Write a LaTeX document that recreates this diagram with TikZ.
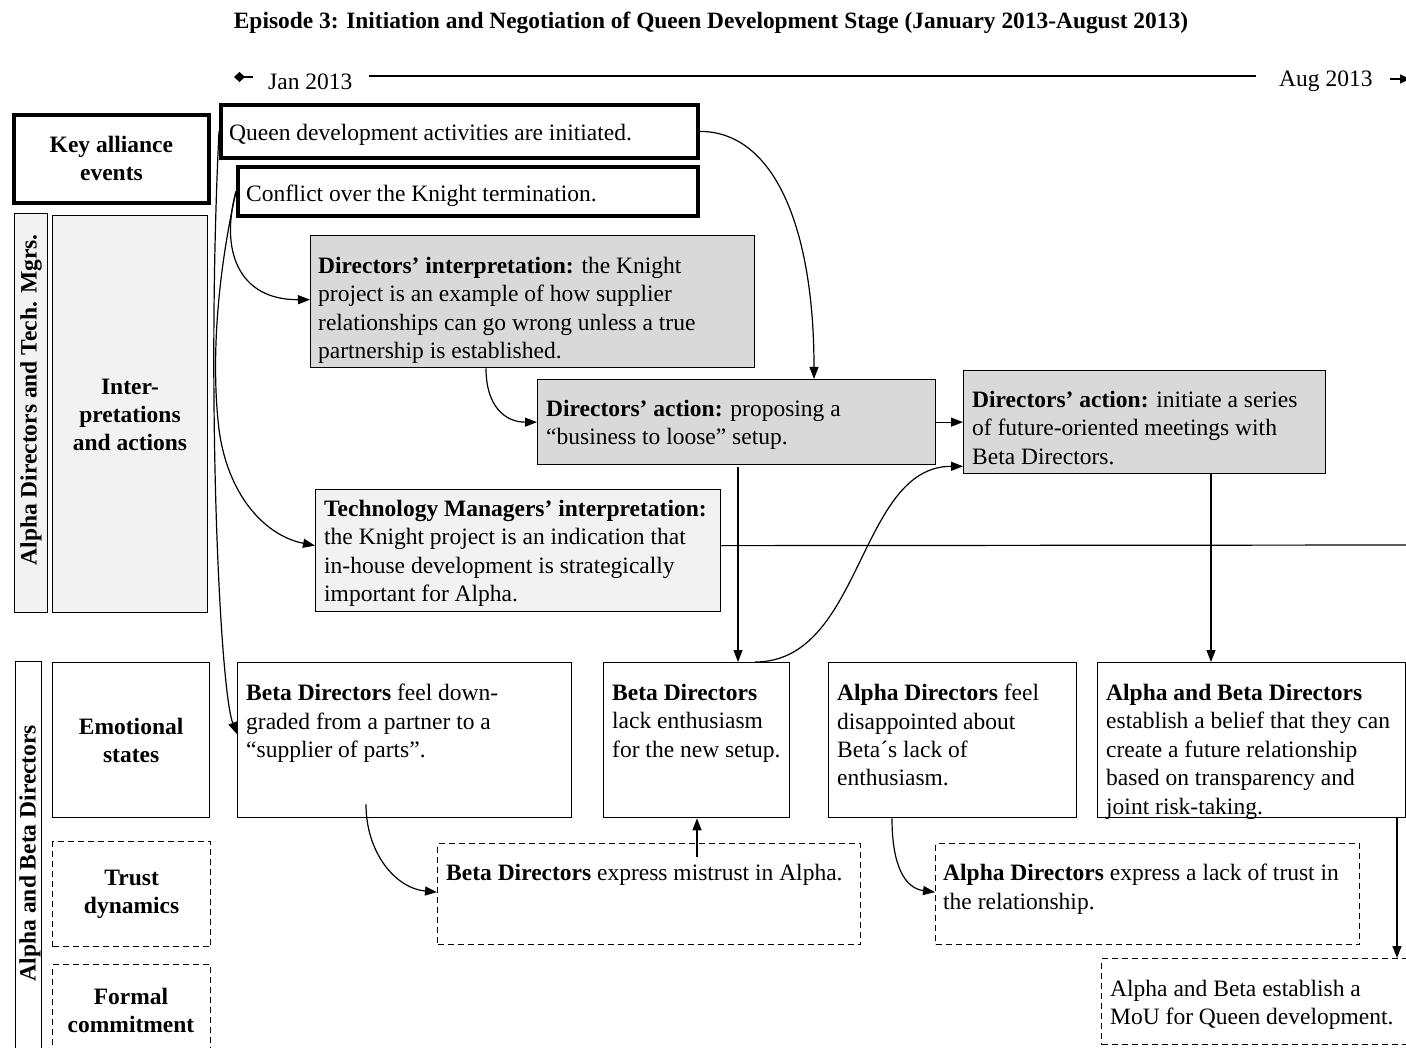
\documentclass[tikz,border=0pt]{standalone}
\usepackage{fontspec}
\setmainfont{Liberation Serif}
\usetikzlibrary{arrows.meta,calc}
\definecolor{gdark}{HTML}{D9D9D9}
\definecolor{glight}{HTML}{F2F2F2}
\begin{document}
\begin{tikzpicture}[x=1pt,y=-1pt,
  rect/.style={draw, line width=1.3pt, inner sep=0pt, anchor=north west},
  thickrect/.style={rect, line width=3.8pt},
  dashrect/.style={rect, dash pattern=on 6pt off 4pt},
  txt/.style={font=\fontsize{23.5}{28.4}\selectfont, align=left, inner sep=0pt, anchor=north west},
  lab/.style={font=\bfseries\fontsize{23.5}{28}\selectfont, align=center, inner sep=0pt},
  arr/.style={line width=1.2pt, -{Triangle[length=12pt,width=9pt]}},
  plain/.style={line width=1.2pt}
]
\useasboundingbox[fill=white] (0,0) rectangle (1406,1048);

% title
\node[font=\bfseries\fontsize{23.4}{26}\selectfont, inner sep=0pt] (title) at (711,23) {Episode 3: Initiation and Negotiation of Queen Development Stage (January 2013-August 2013)};

% timeline
\node[font=\fontsize{23.5}{26}\selectfont, anchor=west, inner sep=0pt] (jan) at (268,82) {Jan 2013};
\node[font=\fontsize{23.5}{26}\selectfont, anchor=west, inner sep=0pt] (aug) at (1279,81) {Aug 2013};
\coordinate (tlA) at (234,77);
\coordinate (tlB) at (253,77);
\coordinate (tlC) at (1390,79);
\coordinate (tlD) at (1410,79);
\draw[line width=1.2pt, {Diamond[length=11pt,width=10pt]}-] (tlA) -- (tlB);
\draw[line width=1.2pt] ($(jan.east)+(16,-6)$) -- ($(aug.west)+(-23,-5)$);
\draw[line width=1.2pt, -{Triangle[length=10pt,width=9pt]}] (tlC) -- (tlD);

% left labels
\node[thickrect, minimum width=195pt, minimum height=88pt] (kae) at (12,113) {};
\node[lab] (kaet) at (kae.center) {Key alliance\\events};
\node[rect, fill=glight, minimum width=33pt, minimum height=399pt] (colA) at (14,213) {};
\node[lab, rotate=90] (colAt) at (31,400) {Alpha Directors and Tech. Mgrs.};
\node[rect, fill=glight, minimum width=155pt, minimum height=397pt] (interp) at (52,215) {};
\node[lab] (interpt) at (130,415) {Inter-\\pretations\\and actions};
\node[rect, minimum width=26pt, minimum height=420pt] (colB) at (15,661) {};
\node[lab, rotate=90] (colBt) at (30,853) {Alpha and Beta Directors};
\node[rect, minimum width=157pt, minimum height=155pt] (emo) at (52,662) {};
\node[lab] (emot) at (emo.center) {Emotional\\states};
\node[dashrect, minimum width=158pt, minimum height=105pt] (trust) at (52,841) {};
\node[lab] (trustt) at (trust.center) {Trust\\dynamics};
\node[dashrect, minimum width=158pt, minimum height=110pt] (formal) at (52,964) {};
\node[lab] (formalt) at (131,1010) {Formal\\commitment};

% key events
\node[thickrect, minimum width=477pt, minimum height=53pt] (queen) at (219,103) {};
\node[txt, anchor=west] (queent) at (229,135) {Queen development activities are initiated.};
\node[thickrect, minimum width=460pt, minimum height=49pt] (conflict) at (236,165) {};
\node[txt, anchor=west] (conflictt) at (246,196) {Conflict over the Knight termination.};

% interpretations and actions
\node[rect, fill=gdark, minimum width=444pt, minimum height=132pt] (dint) at (310,235) {};
\node[txt] (dintt) at (318,257) {\textbf{Directors’ interpretation:} the Knight\\project is an example of how supplier\\relationships can go wrong unless a true\\partnership is established.};
\node[rect, fill=gdark, minimum width=398pt, minimum height=85pt] (dact) at (537,379) {};
\node[txt] (dactt) at (546,400) {\textbf{Directors’ action:} proposing a\\“business to loose” setup.};
\node[rect, fill=gdark, minimum width=362pt, minimum height=103pt] (dini) at (963,370) {};
\node[txt] (dinit) at (972,391) {\textbf{Directors’ action:} initiate a series\\of future-oriented meetings with\\Beta Directors.};
\node[rect, fill=glight, minimum width=405pt, minimum height=122pt] (tech) at (315,489) {};
\node[txt] (techt) at (324,500) {\textbf{Technology Managers’ interpretation:}\\the Knight project is an indication that\\in-house development is strategically\\important for Alpha.};

% emotional states
\node[rect, minimum width=334pt, minimum height=155pt] (bdown) at (237,662) {};
\node[txt] (bdownt) at (246,684) {\textbf{Beta Directors} feel down-\\graded from a partner to a\\“supplier of parts”.};
\node[rect, minimum width=186pt, minimum height=155pt] (black) at (603,662) {};
\node[txt] (blackt) at (612,684) {\textbf{Beta Directors}\\lack enthusiasm\\for the new setup.};
\node[rect, minimum width=248pt, minimum height=155pt] (adis) at (828,662) {};
\node[txt] (adist) at (837,684) {\textbf{Alpha Directors} feel\\disappointed about\\Beta´s lack of\\enthusiasm.};
\node[rect, minimum width=308pt, minimum height=155pt] (belief) at (1097,662) {};
\node[txt] (belieft) at (1106,684) {\textbf{Alpha and Beta Directors}\\establish a belief that they can\\create a future relationship\\based on transparency and\\joint risk-taking.};

% trust dynamics
\node[dashrect, minimum width=423pt, minimum height=101pt] (mist) at (437,843) {};
\node[txt] (mistt) at (446,864) {\textbf{Beta Directors} express mistrust in Alpha.};
\node[dashrect, minimum width=424pt, minimum height=101pt] (alack) at (935,843) {};
\node[txt] (alackt) at (943,864) {\textbf{Alpha Directors} express a lack of trust in\\the relationship.};

% formal commitment
\node[dashrect, minimum width=320pt, minimum height=86pt] (mou) at (1101,958) {};
\node[txt] (mout) at (1110,980) {Alpha and Beta establish a\\MoU for Queen development.};

% connectors
\coordinate (offR) at (1410,545);
\draw[arr] (queen.east) .. controls +(75,0) and +(0,-150) .. ($(dact.north west)+(277,0)$);
\draw[arr] (queen.west) .. controls (206,400) and (220,690) .. ($(bdown.west)+(0,-6)$);
\draw[arr] (conflict.west) .. controls (220,250) and (238,300) .. ($(dint.west)+(0,-2)$);
\draw[arr] (conflict.west) .. controls (212,300) and (214,380) .. (218,420) .. controls (224,490) and (262,535) .. ($(tech.west)+(0,-5)$);
\draw[arr] ($(dint.south west)+(176,0)$) .. controls +(0,38) and +(-32,0) .. (dact.west);
\draw[arr] (dact.east) -- (dini.west);
\draw[arr] ($(dact.south west)+(201,2)$) -- ($(black.north west)+(135,0)$);
\draw[plain] ($(tech.east)+(0,-5)$) -- (offR);
\draw[arr] ($(black.north west)+(152,0)$) .. controls +(108,0) and +(-105,0) .. ($(dini.south west)+(0,-8)$);
\draw[arr] ($(dini.south west)+(248,0)$) -- ($(belief.north west)+(114,0)$);
\draw[arr] ($(mist.north west)+(260,14)$) -- ($(black.south west)+(94,0)$);
\draw[arr] ($(bdown.south west)+(129,-14)$) .. controls +(0,48) and +(-42,-4) .. ($(mist.west)+(0,-2)$);
\draw[arr] ($(adis.south west)+(64,0)$) .. controls +(0,48) and +(-30,-4) .. ($(alack.west)+(0,-2)$);
\draw[arr] ($(belief.south west)+(300,0)$) -- ($(mou.north west)+(296,0)$);
\end{tikzpicture}
\end{document}
